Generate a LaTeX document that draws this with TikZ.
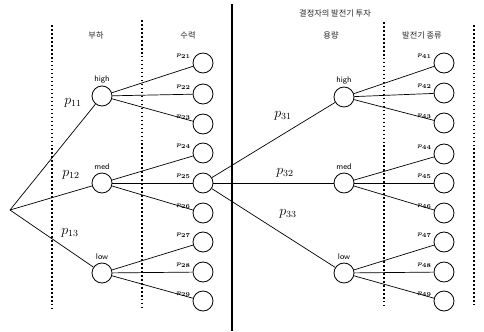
\documentclass[tikz,border=0pt]{standalone}
\usepackage{fontspec}
\usepackage{tikz}
\usetikzlibrary{positioning}
\newfontfamily\krfont{Noto Sans CJK KR}
\tikzset{
  chance/.style={draw=black, circle, line width=0.7pt, minimum size=0.6cm,
        inner sep=0pt},
  leaf/.style={draw=black, circle, line width=0.7pt, minimum size=0.6cm,
        inner sep=0pt},
  branch/.style={line width=0.6pt, draw=black},
  sep/.style={line width=1.4pt, dotted, draw=black},
  stagetitle/.style={font=\krfont\scriptsize, text=black!85},
  statelbl/.style={font=\sffamily\scriptsize, inner sep=1pt},
  problbl/.style={font=\large, inner sep=1pt},
  leaflbl/.style={font=\tiny\boldmath, inner sep=0.5pt}
}
\begin{document}
\begin{tikzpicture}[x=0.03cm, y=-0.03cm]
\useasboundingbox (0,0) rectangle (484,331);
% stage separators
\draw[sep] (52,25) -- (52,308);
\draw[sep] (142,20) -- (142,308);
\draw[line width=0.9pt] (232,4) -- (232,331);
\draw[sep] (384,22) -- (384,305);
\draw[sep] (474,25) -- (474,305);

% stage titles
\node[stagetitle] (t1) at (96,35) {부하};
\node[stagetitle] (t2) at (188,35) {수력};
\node[stagetitle] (t3) at (335,13) {결정자의 발전기 투자};
\node[stagetitle] (t4) at (331,35) {용량};
\node[stagetitle] (t5) at (422,35) {발전기 종류};

% load stage
\coordinate (root) at (10,210);
\node[chance] (hi) at (102,96)  {};
\node[chance] (md) at (102,183) {};
\node[chance] (lo) at (102,273) {};
\node[statelbl, above=1pt of hi] (hilbl) {high};
\node[statelbl, above=1pt of md] (mdlbl) {med};
\node[statelbl, above=1pt of lo] (lolbl) {low};
\draw[branch] (root) -- (hi);
\draw[branch] (root) -- (md);
\draw[branch] (root) -- (lo);
\node[problbl] (p11) at (73,103) {$p_{11}$};
\node[problbl] (p12) at (71,175) {$p_{12}$};
\node[problbl] (p13) at (70,233) {$p_{13}$};

% hydro stage
\node[leaf] (la1) at (203,63)  {};
\node[leaf] (la2) at (203,94)  {};
\node[leaf] (la3) at (203,124) {};
\node[leaf] (la4) at (203,153) {};
\node[leaf] (la5) at (203,183) {};
\node[leaf] (la6) at (203,213) {};
\node[leaf] (la7) at (203,242) {};
\node[leaf] (la8) at (203,272) {};
\node[leaf] (la9) at (203,301) {};
\draw[branch] (hi) -- (la1);
\draw[branch] (hi) -- (la2);
\draw[branch] (hi) -- (la3);
\draw[branch] (md) -- (la4);
\draw[branch] (md) -- (la5);
\draw[branch] (md) -- (la6);
\draw[branch] (lo) -- (la7);
\draw[branch] (lo) -- (la8);
\draw[branch] (lo) -- (la9);
\node[leaflbl, above left=3pt and 1pt of la1.west] (q1) {$p_{21}$};
\node[leaflbl, above left=3pt and 1pt of la2.west] (q2) {$p_{22}$};
\node[leaflbl, above left=3pt and 1pt of la3.west] (q3) {$p_{23}$};
\node[leaflbl, above left=3pt and 1pt of la4.west] (q4) {$p_{24}$};
\node[leaflbl, above left=3pt and 1pt of la5.west] (q5) {$p_{25}$};
\node[leaflbl, above left=3pt and 1pt of la6.west] (q6) {$p_{26}$};
\node[leaflbl, above left=3pt and 1pt of la7.west] (q7) {$p_{27}$};
\node[leaflbl, above left=3pt and 1pt of la8.west] (q8) {$p_{28}$};
\node[leaflbl, above left=3pt and 1pt of la9.west] (q9) {$p_{29}$};

% capacity stage
\node[chance] (rhi) at (344,97)  {};
\node[chance] (rmd) at (344,183) {};
\node[chance] (rlo) at (344,273) {};
\node[statelbl, above=1pt of rhi] (rhilbl) {high};
\node[statelbl, above=1pt of rmd] (rmdlbl) {med};
\node[statelbl, above=1pt of rlo] (rlolbl) {low};
\draw[branch] (la5) -- (rhi);
\draw[branch] (la5) -- (rmd);
\draw[branch] (la5) -- (rlo);
\node[problbl] (p31) at (283,116) {$p_{31}$};
\node[problbl] (p32) at (285,173) {$p_{32}$};
\node[problbl] (p33) at (288,214) {$p_{33}$};

% generator type stage
\node[leaf] (lb1) at (444,63)  {};
\node[leaf] (lb2) at (444,93)  {};
\node[leaf] (lb3) at (444,123) {};
\node[leaf] (lb4) at (444,154) {};
\node[leaf] (lb5) at (444,183) {};
\node[leaf] (lb6) at (444,213) {};
\node[leaf] (lb7) at (444,242) {};
\node[leaf] (lb8) at (444,272) {};
\node[leaf] (lb9) at (444,301) {};
\draw[branch] (rhi) -- (lb1);
\draw[branch] (rhi) -- (lb2);
\draw[branch] (rhi) -- (lb3);
\draw[branch] (rmd) -- (lb4);
\draw[branch] (rmd) -- (lb5);
\draw[branch] (rmd) -- (lb6);
\draw[branch] (rlo) -- (lb7);
\draw[branch] (rlo) -- (lb8);
\draw[branch] (rlo) -- (lb9);
\node[leaflbl, above left=3pt and 1pt of lb1.west] (r1) {$p_{41}$};
\node[leaflbl, above left=3pt and 1pt of lb2.west] (r2) {$p_{42}$};
\node[leaflbl, above left=3pt and 1pt of lb3.west] (r3) {$p_{43}$};
\node[leaflbl, above left=3pt and 1pt of lb4.west] (r4) {$p_{44}$};
\node[leaflbl, above left=3pt and 1pt of lb5.west] (r5) {$p_{45}$};
\node[leaflbl, above left=3pt and 1pt of lb6.west] (r6) {$p_{46}$};
\node[leaflbl, above left=3pt and 1pt of lb7.west] (r7) {$p_{47}$};
\node[leaflbl, above left=3pt and 1pt of lb8.west] (r8) {$p_{48}$};
\node[leaflbl, above left=3pt and 1pt of lb9.west] (r9) {$p_{49}$};
\end{tikzpicture}
\end{document}
